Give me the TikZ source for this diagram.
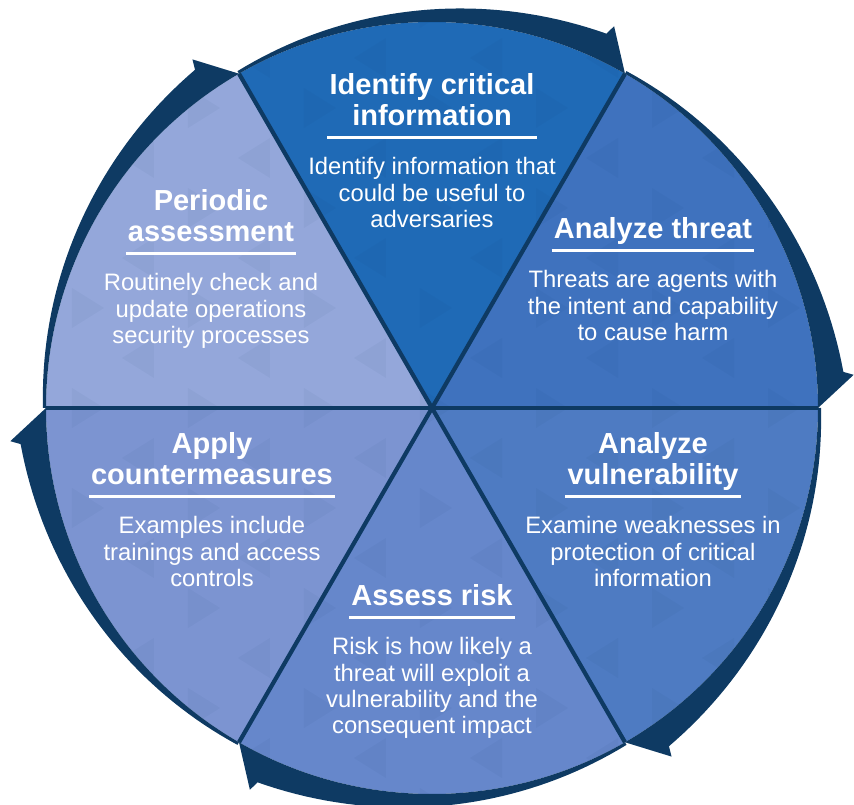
\documentclass[tikz,border=0pt]{standalone}
\usepackage{fontspec}
\setmainfont{Liberation Sans}
\usepackage{tikz}
\usetikzlibrary{calc}

\definecolor{ringblue}{HTML}{0E3A63}
\definecolor{secA}{HTML}{1F6AB6}
\definecolor{secB}{HTML}{3F72BE}
\definecolor{secC}{HTML}{4E7BC2}
\definecolor{secD}{HTML}{6687CB}
\definecolor{secE}{HTML}{7C94D1}
\definecolor{secF}{HTML}{94A7DA}

\tikzset{
  head/.style={text=white, font=\bfseries\fontsize{29}{31}\selectfont, align=center, inner xsep=2pt, inner ysep=0pt, anchor=north},
  body/.style={text=white, font=\fontsize{23.8}{26.3}\selectfont, align=center, inner sep=0pt, anchor=north},
  uline/.style={white, line width=2.5pt},
  divider/.style={ringblue, line width=4.2pt},
  band/.style={fill=ringblue},
  tri/.style={fill=ringblue, fill opacity=0.045}
}

\begin{document}
\begin{tikzpicture}[x=1pt,y=1pt]
				\useasboundingbox (-432,-397) rectangle (422,408);
				
				\fill[secA] (0,0) -- (60:386) arc[start angle=60, end angle=120, radius=386] -- cycle;
				\fill[secB] (0,0) -- (0:386) arc[start angle=0, end angle=60, radius=386] -- cycle;
				\fill[secC] (0,0) -- (-60:386) arc[start angle=-60, end angle=0, radius=386] -- cycle;
				\fill[secD] (0,0) -- (-120:386) arc[start angle=-120, end angle=-60, radius=386] -- cycle;
				\fill[secE] (0,0) -- (180:386) arc[start angle=180, end angle=240, radius=386] -- cycle;
				\fill[secF] (0,0) -- (120:386) arc[start angle=120, end angle=180, radius=386] -- cycle;
				
				\begin{scope}
					\clip (0,0) circle[radius=386];
					\foreach \i in {-4,...,4}
					\foreach \j in {-4,...,4}{
						\fill[tri] (\i*116-12, \j*100+20) -- ++(32,-20) -- ++(-32,-20) -- cycle;
						\fill[tri] (\i*116+70, \j*100+70) -- ++(-32,-20) -- ++(32,-20) -- cycle;
					}
				\end{scope}
				
				\foreach \a in {0,60,...,300}
				\draw[divider] (0,0) -- (\a:386);
				
				\foreach \s in {120,60,0,-60,-120,-180}
				\fill[band] (\s:386) -- plot[domain=0:1,samples=40] ({\s-55*\x}:{389+10*\x+14*\x*\x}) -- ({\s-55.5}:423) -- ({\s-60}:386) arc[start angle=\s-60, end angle=\s, radius=386] -- cycle;
				
				\node[head] (identT) at (0,334.9) {Identify critical\\information};
				\coordinate (identU) at (0,270.5);
				\draw[uline] (identT.west |- identU) -- (identT.east |- identU);
				\node[body] (identB) at (0,250.5) {Identify information that\\could be useful to\\adversaries};
				
				\node[head] (threatT) at (221,190.9) {Analyze threat};
				\coordinate (threatU) at (0,157.5);
				\draw[uline] (threatT.west |- threatU) -- (threatT.east |- threatU);
				\node[body] (threatB) at (221,137.5) {Threats are agents with\\the intent and capability\\to cause harm};
				
				\node[head] (vulnT) at (221,-24.1) {Analyze\\vulnerability};
				\coordinate (vulnU) at (0,-88.5);
				\draw[uline] (vulnT.west |- vulnU) -- (vulnT.east |- vulnU);
				\node[body] (vulnB) at (221,-108.5) {Examine weaknesses in\\protection of critical\\information};
				
				\node[head] (riskT) at (0,-176.1) {Assess risk};
				\coordinate (riskU) at (0,-209.5);
				\draw[uline] (riskT.west |- riskU) -- (riskT.east |- riskU);
				\node[body] (riskB) at (0,-229.5) {Risk is how likely a\\threat will exploit a\\vulnerability and the\\consequent impact};
				
				\node[head] (counterT) at (-220,-24.1) {Apply\\countermeasures};
				\coordinate (counterU) at (0,-88.5);
				\draw[uline] (counterT.west |- counterU) -- (counterT.east |- counterU);
				\node[body] (counterB) at (-220,-108.5) {Examples include\\trainings and access\\controls};
				
				\node[head] (periodT) at (-221,218.9) {Periodic\\assessment};
				\coordinate (periodU) at (0,154.5);
				\draw[uline] (periodT.west |- periodU) -- (periodT.east |- periodU);
				\node[body] (periodB) at (-221,134.5) {Routinely check and\\update operations\\security processes};
			\end{tikzpicture}
\end{document}
